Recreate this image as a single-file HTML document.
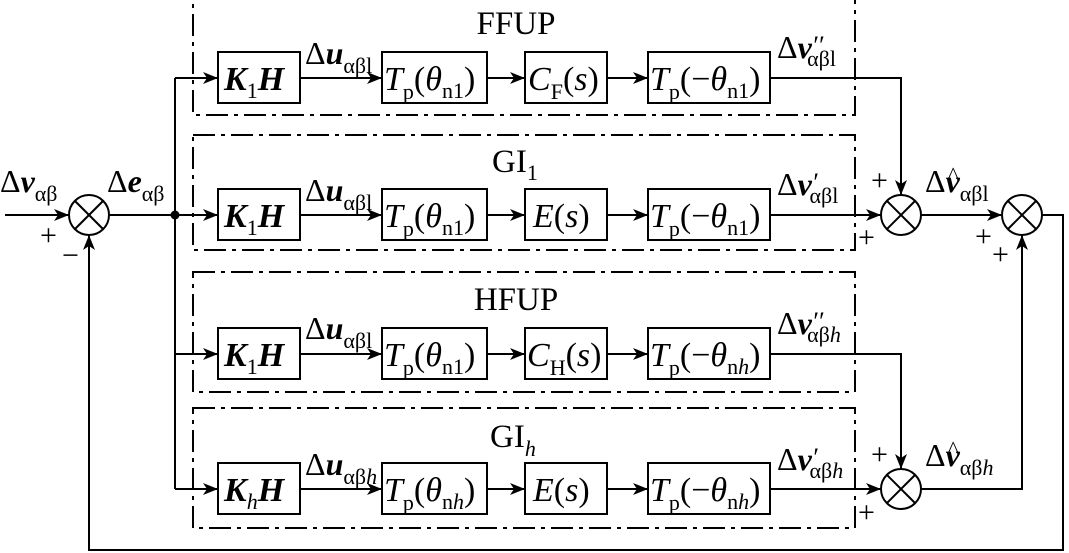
<!DOCTYPE html>
<html><head><meta charset="utf-8"><style>
html,body{margin:0;padding:0;background:#fff;}
svg{display:block;}
text{font-family:"Liberation Serif",serif;fill:#000;}
</style></head><body>
<svg width="1069" height="553" viewBox="0 0 1069 553" xmlns="http://www.w3.org/2000/svg">
<defs>
<marker id="a" viewBox="0 0 15 12" refX="15" refY="6" markerWidth="15" markerHeight="12" markerUnits="userSpaceOnUse" orient="auto">
<path d="M0,0 L15,6 L0,12 L4,6 z" fill="#000"/></marker>
</defs>
<g fill="none" stroke="#000" stroke-width="2" stroke-dasharray="22,6,4,6">
<rect x="193" y="-2" width="662" height="117"/>
<rect x="193" y="135" width="662" height="115"/>
<rect x="193" y="272" width="662" height="120"/>
<rect x="193" y="408" width="662" height="120"/>
</g>
<g fill="none" stroke="#000" stroke-width="2">
<line x1="5" y1="215" x2="69" y2="215" marker-end="url(#a)"/>
<circle cx="89" cy="215" r="20"/>
<line x1="75" y1="201" x2="103" y2="229"/><line x1="103" y1="201" x2="75" y2="229"/>
<line x1="109" y1="215" x2="175" y2="215"/>
<line x1="175" y1="78" x2="175" y2="489"/>
<line x1="175" y1="78" x2="218" y2="78" marker-end="url(#a)"/>
<line x1="175" y1="215" x2="218" y2="215" marker-end="url(#a)"/>
<line x1="175" y1="354" x2="218" y2="354" marker-end="url(#a)"/>
<line x1="175" y1="489" x2="218" y2="489" marker-end="url(#a)"/>
<g id="r1">
<rect x="218" y="52" width="82" height="51"/>
<rect x="382" y="52" width="105" height="51"/>
<rect x="525" y="52" width="82" height="51"/>
<rect x="648" y="52" width="122" height="51"/>
<line x1="300" y1="78" x2="382" y2="78" marker-end="url(#a)"/>
<line x1="487" y1="78" x2="525" y2="78" marker-end="url(#a)"/>
<line x1="607" y1="78" x2="648" y2="78" marker-end="url(#a)"/>
</g>
<use href="#r1" y="137"/>
<use href="#r1" y="276"/>
<use href="#r1" y="411"/>
<polyline points="770,78 901,78 901,195" marker-end="url(#a)"/>
<line x1="770" y1="215" x2="881" y2="215" marker-end="url(#a)"/>
<circle cx="901" cy="215" r="20"/>
<line x1="887" y1="201" x2="915" y2="229"/><line x1="915" y1="201" x2="887" y2="229"/>
<line x1="921" y1="215" x2="1002" y2="215" marker-end="url(#a)"/>
<circle cx="1022" cy="215" r="20"/>
<line x1="1008" y1="201" x2="1036" y2="229"/><line x1="1036" y1="201" x2="1008" y2="229"/>
<polyline points="1042,215 1063,215 1063,550 89,550 89,235" marker-end="url(#a)"/>
<polyline points="770,354 901,354 901,469" marker-end="url(#a)"/>
<line x1="770" y1="489" x2="881" y2="489" marker-end="url(#a)"/>
<circle cx="901" cy="489" r="20"/>
<line x1="887" y1="475" x2="915" y2="503"/><line x1="915" y1="475" x2="887" y2="503"/>
<polyline points="921,489 1022,489 1022,235" marker-end="url(#a)"/>
</g>
<circle cx="175" cy="215" r="4.5" fill="#000"/>
<g font-size="33">
<text x="516" y="34" text-anchor="middle">FFUP</text>
<text x="492" y="172">GI<tspan font-size="22" dy="8">1</tspan></text>
<text x="516" y="310" text-anchor="middle">HFUP</text>
<text x="490" y="447">GI<tspan font-size="22" dy="9" font-style="italic">h</tspan></text>
</g>
<g font-size="34">
<text x="224" y="90" font-weight="bold" font-style="italic">K<tspan font-size="22" font-weight="normal" font-style="normal" dy="8">1</tspan><tspan dy="-8">H</tspan></text>
<text x="224" y="227" font-weight="bold" font-style="italic">K<tspan font-size="22" font-weight="normal" font-style="normal" dy="8">1</tspan><tspan dy="-8">H</tspan></text>
<text x="224" y="366" font-weight="bold" font-style="italic">K<tspan font-size="22" font-weight="normal" font-style="normal" dy="8">1</tspan><tspan dy="-8">H</tspan></text>
<text x="224" y="501" font-weight="bold" font-style="italic">K<tspan font-size="22" font-weight="normal" dy="8">h</tspan><tspan dy="-8">H</tspan></text>
<text x="384" y="90"><tspan font-style="italic">T</tspan><tspan font-size="22" dy="9">p</tspan><tspan dy="-9">(</tspan><tspan font-style="italic">θ</tspan><tspan font-size="22" dy="8">n1</tspan><tspan dy="-8">)</tspan></text>
<text x="384" y="227"><tspan font-style="italic">T</tspan><tspan font-size="22" dy="9">p</tspan><tspan dy="-9">(</tspan><tspan font-style="italic">θ</tspan><tspan font-size="22" dy="8">n1</tspan><tspan dy="-8">)</tspan></text>
<text x="384" y="366"><tspan font-style="italic">T</tspan><tspan font-size="22" dy="9">p</tspan><tspan dy="-9">(</tspan><tspan font-style="italic">θ</tspan><tspan font-size="22" dy="8">n1</tspan><tspan dy="-8">)</tspan></text>
<text x="384" y="501"><tspan font-style="italic">T</tspan><tspan font-size="22" dy="9">p</tspan><tspan dy="-9">(</tspan><tspan font-style="italic">θ</tspan><tspan font-size="22" dy="8">n</tspan><tspan font-size="22" font-style="italic">h</tspan><tspan dy="-8">)</tspan></text>
<text x="528" y="90"><tspan font-style="italic">C</tspan><tspan font-size="22" dy="9">F</tspan><tspan dy="-9">(</tspan><tspan font-style="italic">s</tspan>)</text>
<text x="533" y="227"><tspan font-style="italic">E</tspan>(<tspan font-style="italic">s</tspan>)</text>
<text x="527" y="366"><tspan font-style="italic">C</tspan><tspan font-size="22" dy="9">H</tspan><tspan dy="-9">(</tspan><tspan font-style="italic">s</tspan>)</text>
<text x="533" y="501"><tspan font-style="italic">E</tspan>(<tspan font-style="italic">s</tspan>)</text>
<text x="650" y="90"><tspan font-style="italic">T</tspan><tspan font-size="22" dy="9">p</tspan><tspan dy="-9">(−</tspan><tspan font-style="italic">θ</tspan><tspan font-size="22" dy="8">n1</tspan><tspan dy="-8">)</tspan></text>
<text x="650" y="227"><tspan font-style="italic">T</tspan><tspan font-size="22" dy="9">p</tspan><tspan dy="-9">(−</tspan><tspan font-style="italic">θ</tspan><tspan font-size="22" dy="8">n1</tspan><tspan dy="-8">)</tspan></text>
<text x="650" y="366"><tspan font-style="italic">T</tspan><tspan font-size="22" dy="9">p</tspan><tspan dy="-9">(−</tspan><tspan font-style="italic">θ</tspan><tspan font-size="22" dy="8">n</tspan><tspan font-size="22" font-style="italic">h</tspan><tspan dy="-8">)</tspan></text>
<text x="650" y="501"><tspan font-style="italic">T</tspan><tspan font-size="22" dy="9">p</tspan><tspan dy="-9">(−</tspan><tspan font-style="italic">θ</tspan><tspan font-size="22" dy="8">n</tspan><tspan font-size="22" font-style="italic">h</tspan><tspan dy="-8">)</tspan></text>
</g>
<g font-size="32">
<text x="305" y="64">Δ<tspan font-weight="bold" font-style="italic">u</tspan><tspan font-size="22" dy="9">αβl</tspan></text>
<text x="305" y="201">Δ<tspan font-weight="bold" font-style="italic">u</tspan><tspan font-size="22" dy="9">αβl</tspan></text>
<text x="305" y="339">Δ<tspan font-weight="bold" font-style="italic">u</tspan><tspan font-size="22" dy="9">αβl</tspan></text>
<text x="305" y="475">Δ<tspan font-weight="bold" font-style="italic">u</tspan><tspan font-size="22" dy="9">αβ</tspan><tspan font-size="22" font-style="italic">h</tspan></text>
<text x="777" y="58">Δ<tspan font-weight="bold" font-style="italic">v</tspan><tspan font-size="26" font-style="italic" dy="-4">′′</tspan><tspan font-size="22" dx="-16" dy="12">αβl</tspan></text>
<text x="777" y="195">Δ<tspan font-weight="bold" font-style="italic">v</tspan><tspan font-size="26" font-style="italic" dy="-4">′</tspan><tspan font-size="22" dx="-8" dy="12">αβl</tspan></text>
<text x="777" y="334">Δ<tspan font-weight="bold" font-style="italic">v</tspan><tspan font-size="26" font-style="italic" dy="-4">′′</tspan><tspan font-size="22" dx="-16" dy="12">αβ</tspan><tspan font-size="22" font-style="italic">h</tspan></text>
<text x="777" y="470">Δ<tspan font-weight="bold" font-style="italic">v</tspan><tspan font-size="26" font-style="italic" dy="-4">′</tspan><tspan font-size="22" dx="-8" dy="12">αβ</tspan><tspan font-size="22" font-style="italic">h</tspan></text>
<text x="0" y="192">Δ<tspan font-weight="bold" font-style="italic">v</tspan><tspan font-size="22" dy="9">αβ</tspan></text>
<text x="107" y="192">Δ<tspan font-weight="bold" font-style="italic">e</tspan><tspan font-size="22" dy="9">αβ</tspan></text>
<text x="925" y="192">Δ<tspan font-weight="bold" font-style="italic">v</tspan><tspan font-size="22" dy="9">αβl</tspan></text>
<text x="948" y="182" font-size="22">^</text>
<text x="925" y="466">Δ<tspan font-weight="bold" font-style="italic">v</tspan><tspan font-size="22" dy="9">αβ</tspan><tspan font-size="22" font-style="italic">h</tspan></text>
<text x="948" y="456" font-size="22">^</text>
</g>
<g font-size="30">
<text x="40" y="245">+</text>
<text x="62" y="265">−</text>
<text x="871" y="190">+</text>
<text x="858" y="247">+</text>
<text x="975" y="246">+</text>
<text x="992" y="264">+</text>
<text x="871" y="464">+</text>
<text x="858" y="522">+</text>
</g>
</svg>
</body></html>
